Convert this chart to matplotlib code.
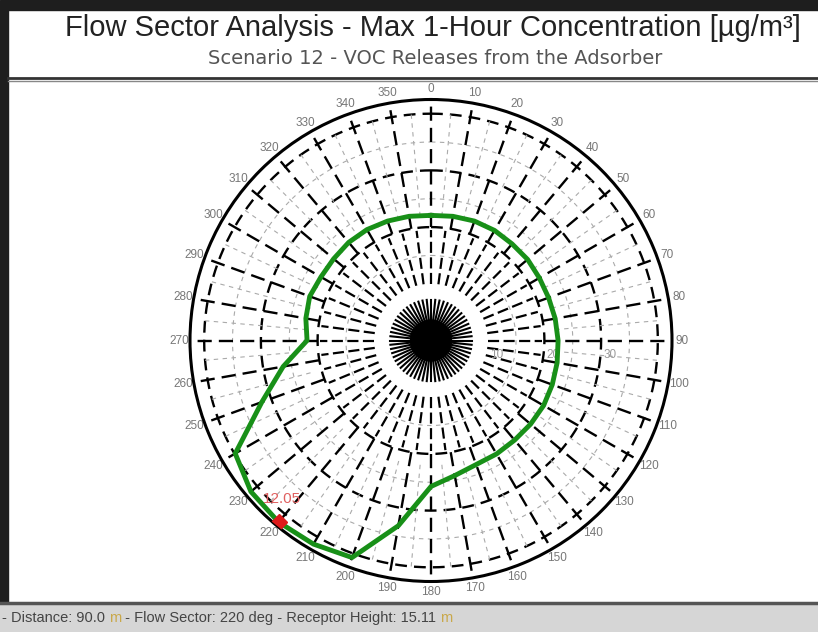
import numpy as np
import matplotlib
matplotlib.use("Agg")
import matplotlib.pyplot as plt
from matplotlib.patches import Rectangle

plt.rcParams['font.family'] = ['Liberation Sans', 'DejaVu Sans']

# max 1-hour concentration per flow sector [ug/m3]
sectors = list(range(0, 360, 10))
conc = [6.36, 6.41, 6.46, 6.46, 6.41, 6.41, 6.36, 6.36, 6.41, 6.46,
        6.51, 6.56, 6.61, 6.61, 6.61, 6.66, 6.71, 6.97, 7.42, 9.56,
        11.74, 11.95, 12.05, 11.95, 11.49, 9.15, 7.63, 6.30, 6.46, 6.56,
        6.46, 6.46, 6.51, 6.51, 6.46, 6.41]
max_sector = 220
max_conc = 12.05

# background distance grid
dist_rings = [20, 30, 40]
minor_rings = [15, 25, 35]
dist_labels = [10, 20, 30]

title = "Flow Sector Analysis - Max 1-Hour Concentration [\u00b5g/m\u00b3]"
subtitle = "Scenario 12 - VOC Releases from the Adsorber"
footer = [("- Distance: 90.0 ", '#444444'), ("m", '#c9a84a'),
          (" - Flow Sector: 220 deg - Receptor Height: 15.11 ", '#444444'),
          ("m", '#c9a84a')]

W, H = 818, 632
fig = plt.figure(figsize=(W / 100, H / 100), dpi=100)


def fy(y):
    return 1 - y / H


# frame, title box and footer bar
fig.patches.append(Rectangle((0, fy(10)), 1, 10 / H, color='#1e1e1e', transform=fig.transFigure))
fig.patches.append(Rectangle((0, fy(603)), 8 / W, 593 / H, color='#1e1e1e', transform=fig.transFigure))
fig.patches.append(Rectangle((0, 0), 1, 28 / H, color='#d6d6d6', transform=fig.transFigure))
fig.lines.append(plt.Line2D([8 / W, 1], [fy(78), fy(78)], color='#333333', lw=2, transform=fig.transFigure))
fig.lines.append(plt.Line2D([8 / W, 1], [fy(81), fy(81)], color='#888888', lw=1, transform=fig.transFigure))
fig.lines.append(plt.Line2D([0, 1], [fy(603), fy(603)], color='#555555', lw=2.5, transform=fig.transFigure))

fig.text(433 / W, fy(28), title, ha='center', va='center', fontsize=21, color='#222222')
fig.text(435 / W, fy(58), subtitle, ha='center', va='center', fontsize=14,
         color='#555555', family='DejaVu Sans')

# polar area
cx, cy, rad = 431, 340.5, 241
rect = [(cx - rad) / W, (H - cy - rad) / H, 2 * rad / W, 2 * rad / H]

ax_bg = fig.add_axes(rect, projection='polar', label='bg')
ax_bg.set_theta_zero_location('N')
ax_bg.set_theta_direction(-1)
ax_bg.set_ylim(0, 42.5)
ax_bg.grid(False)
ax_bg.set_yticks([])
ax_bg.set_xticks(np.deg2rad(sectors))
ax_bg.set_xticklabels([str(s) for s in sectors], color='#777777', fontsize=8.5)
ax_bg.tick_params(axis='x', pad=-3)
ax_bg.spines['polar'].set_linewidth(2.2)

th = np.linspace(0, 2 * np.pi, 721)
for r in dist_rings:
    ax_bg.plot(th, np.full_like(th, r), color='black', lw=1.7, ls=(0, (5, 3)))
for r in minor_rings:
    ax_bg.plot(th, np.full_like(th, r), color='#aaaaaa', lw=0.8, ls=(0, (4, 4)))

for a in range(0, 360, 10):
    t = np.deg2rad(a)
    ax_bg.plot([t, t], [20, 42.5], color='black', lw=1.7, ls=(0, (6, 3)))
    ax_bg.plot([t + np.deg2rad(5)] * 2, [22, 40], color='#aaaaaa', lw=0.8, ls=(0, (4, 4)))
for a in np.arange(0, 360, 7.5):
    t = np.deg2rad(a)
    ax_bg.plot([t, t], [10, 19.5], color='black', lw=1.6, ls=(0, (5, 2)))
for a in range(0, 360, 6):
    t = np.deg2rad(a)
    ax_bg.plot([t, t], [2.5, 7.2], color='black', lw=1.5)
ax_bg.fill(th, np.full_like(th, 3.6), color='black')

for d in dist_labels:
    ax_bg.annotate(str(d), xy=(np.pi / 2, d), xytext=(2, -15), textcoords='offset pixels',
                   ha='left', va='center', color='#999999', fontsize=8.5)

# concentration curve
ax = fig.add_axes(rect, projection='polar', label='conc')
ax.set_theta_zero_location('N')
ax.set_theta_direction(-1)
ax.set_ylim(0, 12.25)
ax.set_axis_off()
ax.patch.set_alpha(0)

theta = np.deg2rad(sectors + [sectors[0]])
ax.plot(theta, conc + [conc[0]], color='#189018', lw=3.5)
ax.plot(np.deg2rad(max_sector), max_conc, marker='D', color='#dd1a1a', ms=8, ls='none')
ax.annotate(f"{max_conc:.2f}", xy=(np.deg2rad(max_sector), max_conc), xytext=(3, 23),
            textcoords='offset pixels', ha='center', va='center', color='#e06060', fontsize=11)

# footer text pieces
renderer = fig.canvas.get_renderer()
x = 2
for txt, col in footer:
    t = fig.text(x / W, fy(618), txt, ha='left', va='center', fontsize=10.5, color=col)
    x += t.get_window_extent(renderer).width

fig.savefig('out.png', dpi=100)
